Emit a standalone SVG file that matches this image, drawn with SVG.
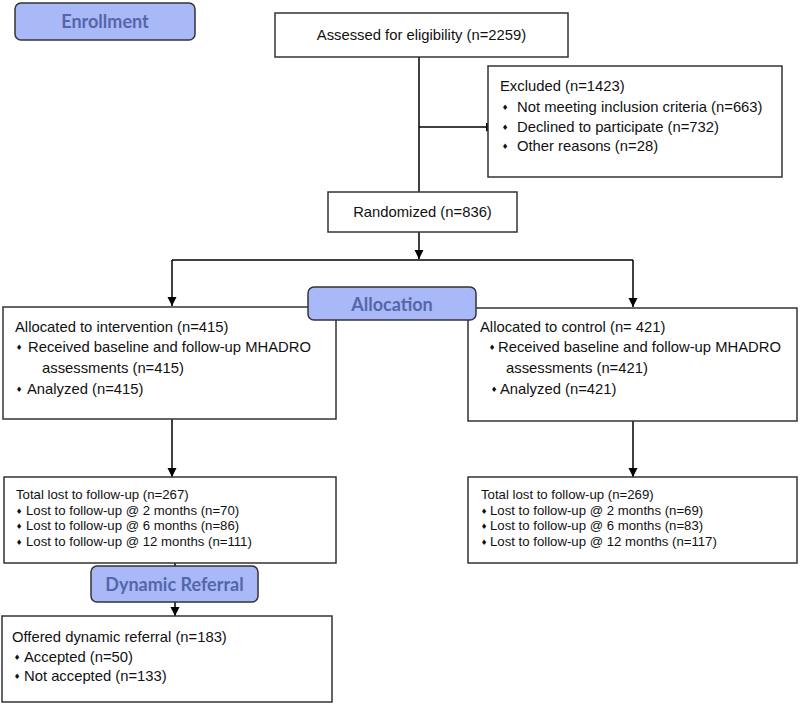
<svg xmlns="http://www.w3.org/2000/svg" width="800" height="704" viewBox="0 0 800 704">
<style>
.box{fill:#fff;stroke:#333;stroke-width:1.5}
.phase{fill:#a9b8f7;stroke:#333;stroke-width:1.5}
.pt{font-family:Lato,"Open Sans",sans-serif;font-weight:bold;font-size:18px;fill:#5566aa;text-anchor:middle}
.t{font-family:"Liberation Sans",Arial,sans-serif;font-size:14.8px;fill:#111}
.s{font-family:"Liberation Sans",Arial,sans-serif;font-size:13.2px;fill:#111}
.b{font-family:"DejaVu Sans",sans-serif;font-size:7.5px;fill:#111;text-anchor:middle}
.c{text-anchor:middle}
.ln{stroke:#000;stroke-width:1.5;fill:none}
.ar{marker-end:url(#arr)}
</style>
<defs>
<marker id="arr" markerUnits="userSpaceOnUse" markerWidth="10" markerHeight="10" refX="9" refY="4.5" orient="auto">
<path d="M0,0 L9,4.5 L0,9 z" fill="#000"/>
</marker>
</defs>
<g id="connectors">
<line class="ln" x1="419" y1="57" x2="419" y2="192"/>
<line class="ln ar" x1="419" y1="127" x2="495" y2="127"/>
<line class="ln ar" x1="419" y1="232" x2="419" y2="259"/>
<line class="ln" x1="172" y1="260" x2="633" y2="260"/>
<line class="ln ar" x1="172" y1="260" x2="172" y2="306"/>
<line class="ln ar" x1="633" y1="260" x2="633" y2="307"/>
<line class="ln ar" x1="172" y1="419" x2="172" y2="477"/>
<line class="ln ar" x1="633" y1="421" x2="633" y2="477"/>
<line class="ln ar" x1="175" y1="563" x2="175" y2="616"/>
</g>
<g id="enrollment">
<rect class="phase" x="15" y="3" width="180" height="37" rx="6"/>
<text class="pt" x="105" y="28">Enrollment</text>
</g>
<g id="assessed">
<rect class="box" x="275" y="13" width="293" height="44"/>
<text class="t c" x="421.5" y="40">Assessed for eligibility (n=2259)</text>
</g>
<g id="excluded">
<rect class="box" x="488" y="66" width="294" height="111"/>
<text class="t" x="500" y="91">Excluded (n=1423)</text>
<text class="b" x="505" y="110">♦</text>
<text class="t" x="517" y="112">Not meeting inclusion criteria (n=663)</text>
<text class="b" x="505" y="130">♦</text>
<text class="t" x="517" y="132">Declined to participate (n=732)</text>
<text class="b" x="505" y="149">♦</text>
<text class="t" x="517" y="151">Other reasons (n=28)</text>
</g>
<g id="randomized">
<rect class="box" x="328" y="192" width="189" height="40"/>
<text class="t c" x="422.5" y="217">Randomized (n=836)</text>
</g>
<g id="alloc-intervention">
<rect class="box" x="3" y="307" width="333" height="112"/>
<text class="t" x="15" y="332">Allocated to intervention (n=415)</text>
<text class="b" x="19" y="350">♦</text>
<text class="t" x="28" y="352">Received baseline and follow-up MHADRO</text>
<text class="t" x="42" y="373">assessments (n=415)</text>
<text class="b" x="19" y="392">♦</text>
<text class="t" x="27" y="394">Analyzed (n=415)</text>
</g>
<g id="alloc-control">
<rect class="box" x="468" y="308" width="329" height="113"/>
<text class="t" x="480" y="332">Allocated to control (n= 421)</text>
<text class="b" x="492" y="350">♦</text>
<text class="t" x="498" y="352">Received baseline and follow-up MHADRO</text>
<text class="t" x="506" y="373">assessments (n=421)</text>
<text class="b" x="494" y="392">♦</text>
<text class="t" x="500" y="394">Analyzed (n=421)</text>
</g>
<g id="allocation">
<rect class="phase" x="308" y="287" width="168" height="33" rx="6"/>
<text class="pt" x="392" y="311">Allocation</text>
</g>
<g id="lost-intervention">
<rect class="box" x="4" y="477" width="332" height="86"/>
<text class="s" x="16" y="499">Total lost to follow-up (n=267)</text>
<text class="b" x="19" y="514">♦</text>
<text class="s" x="26" y="515">Lost to follow-up @ 2 months (n=70)</text>
<text class="b" x="19" y="529">♦</text>
<text class="s" x="26" y="530">Lost to follow-up @ 6 months (n=86)</text>
<text class="b" x="19" y="545">♦</text>
<text class="s" x="26" y="546">Lost to follow-up @ 12 months (n=111)</text>
</g>
<g id="lost-control">
<rect class="box" x="468" y="477" width="329" height="86"/>
<text class="s" x="481" y="499">Total lost to follow-up (n=269)</text>
<text class="b" x="484" y="514">♦</text>
<text class="s" x="490" y="515">Lost to follow-up @ 2 months (n=69)</text>
<text class="b" x="484" y="529">♦</text>
<text class="s" x="490" y="530">Lost to follow-up @ 6 months (n=83)</text>
<text class="b" x="484" y="545">♦</text>
<text class="s" x="490" y="546">Lost to follow-up @ 12 months (n=117)</text>
</g>
<g id="dynamic-referral">
<rect class="phase" x="91" y="566" width="167" height="36" rx="6"/>
<text class="pt" x="174.5" y="591">Dynamic Referral</text>
</g>
<g id="offered">
<rect class="box" x="2" y="616" width="330" height="86"/>
<text class="t" x="12" y="642">Offered dynamic referral (n=183)</text>
<text class="b" x="17" y="660">♦</text>
<text class="t" x="24" y="662">Accepted (n=50)</text>
<text class="b" x="17" y="679">♦</text>
<text class="t" x="24" y="681">Not accepted (n=133)</text>
</g>
</svg>
